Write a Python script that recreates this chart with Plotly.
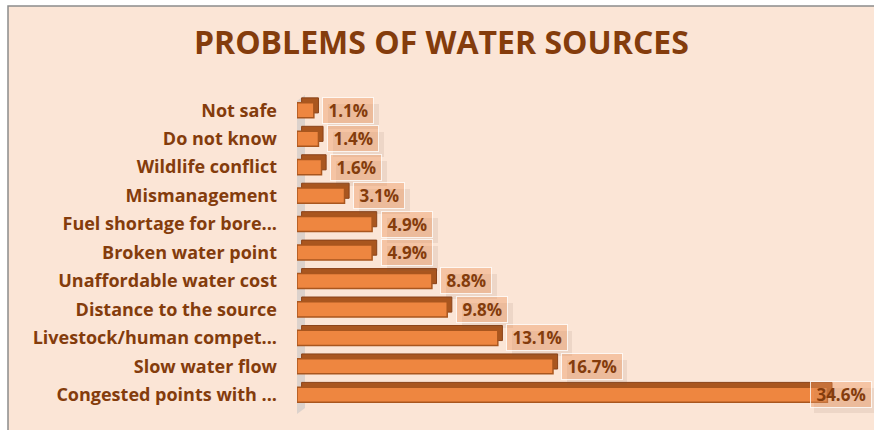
import plotly.graph_objects as go

# Survey results: reported problems with water sources (% of respondents)
categories = [
    "Not safe",
    "Do not know",
    "Wildlife conflict",
    "Mismanagement",
    "Fuel shortage for bore...",
    "Broken water point",
    "Unaffordable water cost",
    "Distance to the source",
    "Livestock/human compet...",
    "Slow water flow",
    "Congested points with ...",
]
values = [1.1, 1.4, 1.6, 3.1, 4.9, 4.9, 8.8, 9.8, 13.1, 16.7, 34.6]
value_labels = [f"{v:.1f}%" for v in values]

# Colours
BG = "#FBE5D6"
BROWN = "#843C0C"
BAR = "#EE8640"
BAR_EDGE = "#A9561E"
DEPTH = "#A9561F"

# Layout geometry (pixels)
W, H = 874, 430
ML, MR, MT, MB = 297, 0, 96, 21
PW, PH = W - ML - MR, H - MT - MB
X_MAX = 37.64            # axis span so that 1% ~ 15.3 px
DEPTH_X = 0.3            # 3-D depth along x (data units)
DEPTH_Y = 0.17           # 3-D depth along y (category units)
BAR_W = 0.53


def px_x(p):
    return (p - ML) / PW


def px_y(p):
    return (H - MB - p) / PH


fig = go.Figure()

# back face of each bar, shifted up/right to give the 3-D block look
fig.add_trace(go.Bar(
    y=categories, x=values, base=[DEPTH_X] * len(values),
    orientation="h", width=BAR_W, offset=-BAR_W / 2 - DEPTH_Y,
    marker=dict(color=DEPTH, line=dict(color="#8A4218", width=1)),
    hoverinfo="skip", showlegend=False,
))
# front face
fig.add_trace(go.Bar(
    y=categories, x=values, base=[0] * len(values),
    orientation="h", width=BAR_W, offset=-BAR_W / 2,
    marker=dict(color=BAR, line=dict(color=BAR_EDGE, width=1.5)),
    showlegend=False,
))

# value labels in boxes, each with a soft drop shadow behind it
label_font = dict(family="Open Sans", size=17, color=BROWN, weight="bold")
box_px = 60
FIG_SPACE = "\u2007"
for cat, v, txt in zip(categories, values, value_labels):
    x = v + DEPTH_X + 0.25
    anchor = "left"
    if (x / X_MAX) * PW + box_px > PW:
        x, anchor = X_MAX, "right"
    common = dict(x=x, y=cat, xref="x", yref="y", showarrow=False,
                  xanchor=anchor, yanchor="middle", borderpad=1, height=23,
                  font=label_font)
    # shadow: blank box of the same size, offset down/right
    fig.add_annotation(
        text=FIG_SPACE * (len(txt) + 1),
        xshift=(6 if anchor == "left" else 0), yshift=-6,
        bgcolor="rgba(120,90,70,0.10)", borderwidth=0, **common,
    )
    fig.add_annotation(
        text=" " + txt + " ", xshift=(0 if anchor == "left" else -2),
        bgcolor="rgba(236,150,95,0.42)", bordercolor="rgba(255,255,255,0.8)",
        borderwidth=1, **common,
    )

fig.update_layout(
    width=W, height=H,
    margin=dict(l=ML, r=MR, t=MT, b=MB),
    paper_bgcolor="white",
    plot_bgcolor="rgba(0,0,0,0)",
    barmode="overlay",
    title=dict(
        text="PROBLEMS OF WATER SOURCES",
        x=0.505, xref="container", xanchor="center",
        y=1 - 43 / H, yref="container", yanchor="middle",
        font=dict(family="Open Sans", size=32, color=BROWN, weight="bold"),
    ),
    xaxis=dict(range=[0, X_MAX], visible=False, fixedrange=True),
    yaxis=dict(
        type="category", categoryorder="array", categoryarray=categories,
        range=[len(categories) - 0.5, -0.5],
        showgrid=False, zeroline=False, showline=False,
        ticks="", ticklabelstandoff=19,
        tickfont=dict(family="Open Sans", size=18, color=BROWN, weight="bold"),
    ),
    shapes=[
        # chart area fill with grey frame
        dict(type="rect", xref="paper", yref="paper",
             x0=px_x(8), x1=px_x(W + 40), y0=px_y(H + 40), y1=px_y(6),
             fillcolor=BG, line=dict(color="#8C8C8C", width=1.5), layer="below"),
        # left wall of the 3-D plot
        dict(type="path", xref="paper", yref="paper",
             path=(f"M {px_x(297)},{px_y(101)} L {px_x(305)},{px_y(95)} "
                   f"L {px_x(305)},{px_y(408)} L {px_x(297)},{px_y(414)} Z"),
             fillcolor="#DCD2CC", line=dict(width=0), layer="below"),
    ],
)

fig.write_html("out.html")
